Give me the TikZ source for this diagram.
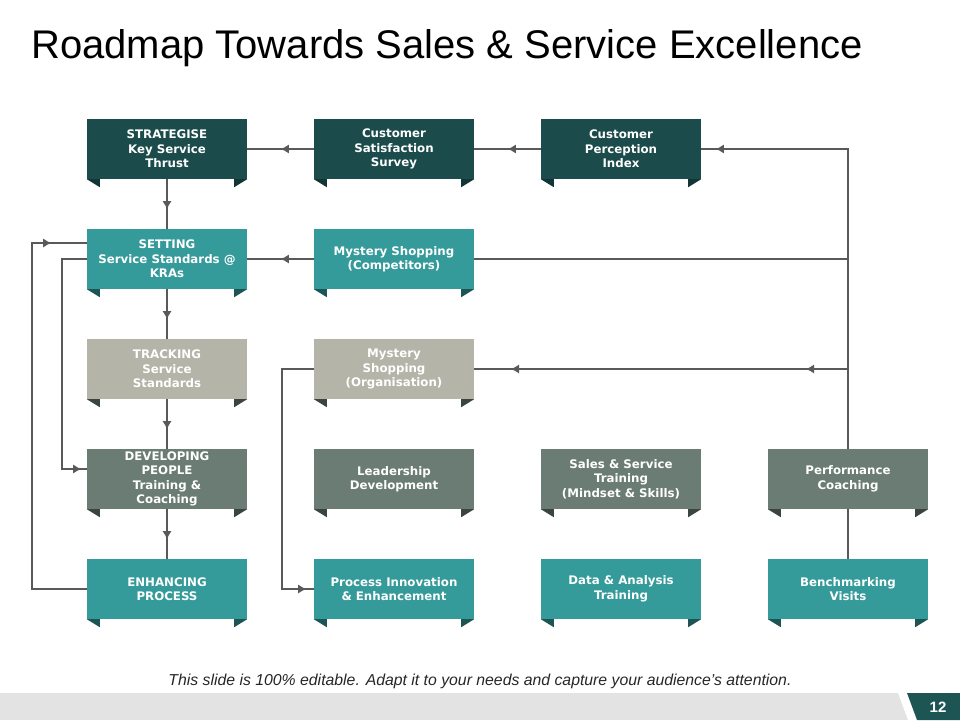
\documentclass[tikz,border=0pt]{standalone}
\usepackage{fontspec}
\setmainfont{Liberation Sans}
\newfontfamily\boxfont{DejaVu Sans}
\usetikzlibrary{positioning,arrows.meta,decorations.markings}
\definecolor{darkteal}{HTML}{1B4B4B}
\definecolor{midteal}{HTML}{349A9A}
\definecolor{beige}{HTML}{B4B4A8}
\definecolor{sage}{HTML}{6A7C74}
\definecolor{tabteal}{HTML}{1D5555}
\definecolor{tabgray}{HTML}{3A4440}
\definecolor{linegray}{HTML}{595959}
\tikzset{
  stage/.style={rectangle, minimum width=160pt, minimum height=60pt, inner sep=2pt,
    text=white, align=center, font=\boxfont\bfseries\fontsize{11.8}{14.5}\selectfont},
  link/.style={draw=linegray, line width=1.1pt},
  mark at/.style={postaction={decorate, decoration={markings,
    mark=at position #1 with {\arrow[linegray]{Latex[length=8pt,width=9pt]}}}}},
}
\begin{document}
\begin{tikzpicture}[x=1pt,y=-1pt]
\useasboundingbox (0,0) rectangle (960,720);
\node[anchor=base west, inner sep=0pt, font=\fontsize{40}{44}\selectfont] (title) at (31,58) {Roadmap Towards Sales \& Service Excellence};

\coordinate (cTop) at (848,149);
\coordinate (cMid) at (848,259);
\coordinate (cOrg) at (848,369);
\coordinate (lA) at (32,589);
\coordinate (lB) at (32,243);
\coordinate (lC) at (62,259);
\coordinate (lD) at (62,469);
\coordinate (lE) at (282,369);
\coordinate (lF) at (282,589);

\node[stage, fill=darkteal] (strat) at (167,149) {STRATEGISE\\Key Service\\Thrust};
\node[stage, fill=darkteal] (css) at (394,149) {Customer\\Satisfaction\\Survey};
\node[stage, fill=darkteal] (cpi) at (621,149) {Customer\\Perception\\Index};
\node[stage, fill=midteal] (set) at (167,259) {SETTING\\Service Standards @\\KRAs};
\node[stage, fill=midteal] (msc) at (394,259) {Mystery Shopping\\(Competitors)};
\node[stage, fill=beige] (track) at (167,369) {TRACKING\\Service\\Standards};
\node[stage, fill=beige] (mso) at (394,369) {Mystery\\Shopping\\(Organisation)};
\node[stage, fill=sage] (dev) at (167,479) {DEVELOPING\\PEOPLE\\Training \&\\Coaching};
\node[stage, fill=sage] (lead) at (394,479) {Leadership\\Development};
\node[stage, fill=sage] (sst) at (621,479) {Sales \& Service\\Training\\(Mindset \& Skills)};
\node[stage, fill=sage] (perf) at (848,479) {Performance\\Coaching};
\node[stage, fill=midteal] (enh) at (167,589) {ENHANCING\\PROCESS};
\node[stage, fill=midteal] (pie) at (394,589) {Process Innovation\\\& Enhancement};
\node[stage, fill=midteal] (data) at (621,589) {Data \& Analysis\\Training};
\node[stage, fill=midteal] (bench) at (848,589) {Benchmarking\\Visits};

% folded tabs
\foreach \n/\c in {strat/darkteal!70!black, css/darkteal!70!black, cpi/darkteal!70!black,
    set/tabteal, msc/tabteal, track/tabgray, mso/tabgray, dev/tabgray, lead/tabgray,
    sst/tabgray, perf/tabgray, enh/tabteal, pie/tabteal, data/tabteal, bench/tabteal}{
  \fill[\c] (\n.south west) -- ++(13,0) -- ++(0,8) -- cycle;
  \fill[\c] (\n.south east) -- ++(-13,0) -- ++(0,8) -- cycle;
}

% connectors
\draw[link, mark at=33pt] (css.west) -- (strat.east);
\draw[link, mark at=33pt] (cpi.west) -- (css.east);
\draw[link, mark at=432pt] (perf.north) -- (cTop) -- (cpi.east);
\draw[link] (bench.north) -- (perf.south);
\draw[link, mark at=33pt] (msc.west) -- (set.east);
\draw[link] (cMid) -- (msc.east);
\draw[link, mark at=42pt, mark at=337pt] (cOrg) -- (mso.east);
\draw[link, mark at=30pt] (strat.south) -- (set.north);
\draw[link, mark at=30pt] (set.south) -- (track.north);
\draw[link, mark at=30pt] (track.south) -- (dev.north);
\draw[link, mark at=30pt] (dev.south) -- (enh.north);
\draw[link, mark at=420pt] (enh.west) -- (lA) -- (lB) -- (set.west |- lB);
\draw[link, mark at=254pt] (set.west) -- (lC) -- (lD) -- (dev.west |- lD);
\draw[link, mark at=276pt] (mso.west) -- (lE) -- (lF) -- (pie.west);

% footer
\fill[gray!22] (0,693) rectangle (960,720);
\fill[white] (898,693) -- (912,693) -- (922,720) -- (908,720) -- cycle;
\fill[tabteal] (907,693) -- (960,693) -- (960,720) -- (917,720) -- cycle;
\node[text=white, font=\bfseries\fontsize{15}{17}\selectfont] (num) at (938,707) {12};
\node[font=\itshape\fontsize{15.8}{18}\selectfont, text=black!85] (note) at (480,681)
  {This slide is 100\% editable. Adapt it to your needs and capture your audience's attention.};
\end{tikzpicture}
\end{document}
